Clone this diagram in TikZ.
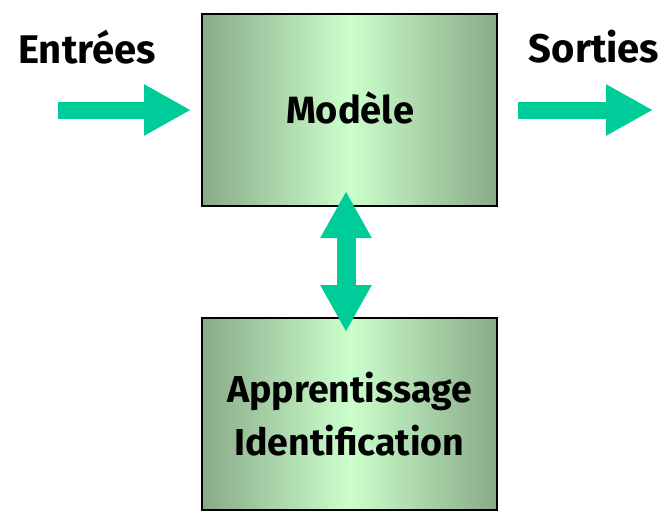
\documentclass[tikz,border=0pt]{standalone}
\usepackage{fontspec}
\setmainfont{Fira Sans}[BoldFont={Fira Sans Bold}]
\usetikzlibrary{arrows.meta}
\definecolor{boxedge}{HTML}{88AA88}
\definecolor{boxmid}{HTML}{CCFFCC}
\definecolor{arrowgreen}{HTML}{00CC99}
\begin{document}
\begin{tikzpicture}[x=1pt,y=-1pt,
  blk/.style={draw=black, line width=2pt, minimum width=295pt, minimum height=192pt,
    left color=boxedge, right color=boxedge, middle color=boxmid, inner sep=0pt,
    font=\bfseries\fontsize{37.5}{53}\selectfont, align=center},
  lbl/.style={font=\bfseries\fontsize{40}{44}\selectfont, inner sep=0pt},
  fat/.style={draw=arrowgreen, line width=17pt, -{Triangle[length=47pt,width=48pt]}},
  fatboth/.style={draw=arrowgreen, line width=19pt, {Triangle[length=47pt,width=48pt]}-{Triangle[length=47pt,width=48pt]}}]
\useasboundingbox (0,0) rectangle (672,520);
\node[blk] (mod) at (349.5,110) {};
\node[font=\bfseries\fontsize{38}{44}\selectfont] (modt) at (350,108) {Modèle};
\node[blk] (app) at (349.5,414) {Apprentissage\\Identification};
\node[lbl] (ent) at (87,47) {Entrées};
\node[lbl] (sor) at (594,47) {Sorties};
\coordinate (inS) at (58,110);
\coordinate (outE) at (653,110);
\draw[fat] (inS) -- ([xshift=-10pt]mod.west);
\draw[fat] ([xshift=20pt]mod.east) -- (outE);
\draw[fatboth] ([xshift=-3.5pt,yshift=16pt]mod.south) -- ([xshift=-3.5pt,yshift=-15pt]app.north);
\end{tikzpicture}
\end{document}
